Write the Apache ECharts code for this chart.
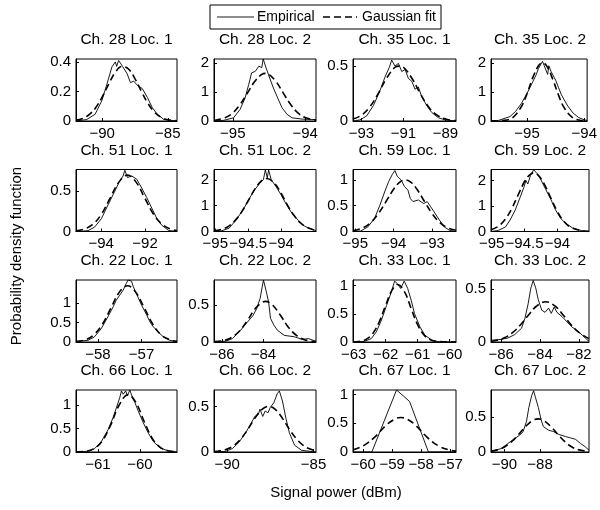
<!DOCTYPE html>
<html><head><meta charset="utf-8">
<script src="https://cdn.jsdelivr.net/npm/echarts@6/dist/echarts.min.js"></script>
<style>html,body{margin:0;padding:0;background:#fff}#c{width:600px;height:510px}</style>
</head><body><div id="c"></div><script>
// ---------- data ----------
const emp28L1 = [[-92,0],[-91.18,0.01],[-90.54,0.046],[-90.03,0.138],[-89.64,0.25],[-89.26,0.367],[-89,0.40],[-88.9,0.37],[-88.75,0.41],[-88.6,0.42],[-88.45,0.37],[-88.3,0.38],[-88.1,0.32],[-87.85,0.26],[-87.6,0.27],[-87.3,0.24],[-86.95,0.22],[-86.56,0.16],[-86.18,0.09],[-85.8,0.046],[-85.3,0.01],[-84.3,0]];
const fit28L1 = [[-92,0.006],[-91.5,0.017],[-91,0.043],[-90.5,0.09],[-90,0.163],[-89.5,0.251],[-89,0.33],[-88.5,0.369],[-88,0.352],[-87.5,0.286],[-87,0.198],[-86.5,0.117],[-86,0.058],[-85.5,0.025],[-85,0.009],[-84.3,0.002]];
const emp28L2 = [[-95.26,0.02],[-95.13,0.02],[-94.99,0.11],[-94.9,0.4],[-94.83,0.8],[-94.78,1.27],[-94.74,1.67],[-94.69,1.72],[-94.64,1.9],[-94.6,1.85],[-94.58,2.15],[-94.54,1.84],[-94.49,1.49],[-94.44,1.15],[-94.38,0.8],[-94.32,0.46],[-94.25,0.23],[-94.18,0.11],[-94.02,0.06],[-93.85,0.05]];
const fit28L2 = [[-95.26,0.02],[-95.1,0.12],[-95.0,0.28],[-94.9,0.57],[-94.8,0.96],[-94.7,1.36],[-94.6,1.62],[-94.55,1.65],[-94.5,1.62],[-94.4,1.36],[-94.3,0.96],[-94.2,0.57],[-94.1,0.28],[-94.0,0.12],[-93.85,0.03]];
const emp35L1 = [[-93.4,0],[-93.07,0.01],[-92.75,0.046],[-92.43,0.14],[-92.11,0.28],[-91.88,0.40],[-91.67,0.49],[-91.56,0.555],[-91.4,0.5],[-91.24,0.525],[-91.08,0.45],[-90.92,0.47],[-90.77,0.39],[-90.6,0.36],[-90.45,0.29],[-90.29,0.31],[-90.13,0.22],[-89.89,0.14],[-89.65,0.077],[-89.34,0.03],[-89.02,0.01],[-88.5,0]];
const fit35L1 = [[-93.4,0.018],[-93,0.053],[-92.6,0.128],[-92.2,0.25],[-91.8,0.39],[-91.4,0.49],[-91.2,0.5],[-91.0,0.49],[-90.6,0.39],[-90.2,0.25],[-89.8,0.128],[-89.4,0.053],[-89.0,0.018],[-88.5,0.003]];
const emp35L2 = [[-95.63,0],[-95.5,0.02],[-95.3,0.15],[-95.2,0.33],[-95.1,0.6],[-95.0,0.95],[-94.95,1.15],[-94.9,1.35],[-94.85,1.55],[-94.8,1.8],[-94.77,1.75],[-94.73,2.05],[-94.7,1.9],[-94.67,1.95],[-94.64,1.6],[-94.62,1.9],[-94.58,1.7],[-94.5,1.4],[-94.45,1.15],[-94.4,0.9],[-94.3,0.55],[-94.2,0.28],[-94.1,0.12],[-94.0,0.04],[-93.95,0.02]];
const fit35L2 = [[-95.63,0],[-95.4,0.02],[-95.25,0.12],[-95.1,0.49],[-95.0,0.94],[-94.9,1.49],[-94.8,1.9],[-94.73,2.0],[-94.65,1.87],[-94.55,1.43],[-94.45,0.89],[-94.35,0.45],[-94.2,0.11],[-94.05,0.017],[-93.95,0.004]];
const emp51L1 = [[-95.15,0],[-94.6,0.01],[-94.3,0.055],[-93.99,0.16],[-93.69,0.33],[-93.38,0.5],[-93.15,0.63],[-93.0,0.69],[-92.92,0.76],[-92.8,0.67],[-92.61,0.69],[-92.38,0.65],[-92.15,0.54],[-91.92,0.42],[-91.69,0.29],[-91.46,0.16],[-91.23,0.076],[-90.92,0.013],[-90.54,0]];
const fit51L1 = [[-95.15,0.008],[-94.8,0.027],[-94.4,0.085],[-94.0,0.21],[-93.6,0.41],[-93.2,0.61],[-92.8,0.7],[-92.4,0.61],[-92.0,0.41],[-91.6,0.21],[-91.2,0.085],[-90.8,0.027],[-90.54,0.01]];
const emp51L2 = [[-95.02,0],[-94.9,0.03],[-94.79,0.13],[-94.69,0.43],[-94.58,0.83],[-94.48,1.29],[-94.4,1.62],[-94.32,1.88],[-94.27,2.0],[-94.24,2.38],[-94.21,2.08],[-94.19,2.38],[-94.15,2.0],[-94.08,1.75],[-94.0,1.42],[-93.93,1.09],[-93.85,0.76],[-93.74,0.43],[-93.64,0.2],[-93.47,0.03]];
const fit51L2 = [[-95.02,0.026],[-94.9,0.086],[-94.8,0.2],[-94.7,0.42],[-94.6,0.76],[-94.5,1.19],[-94.4,1.64],[-94.3,1.96],[-94.22,2.05],[-94.1,1.86],[-94.0,1.48],[-93.9,1.0],[-93.8,0.61],[-93.7,0.32],[-93.6,0.15],[-93.47,0.04]];
const emp59L1 = [[-95.06,0],[-94.86,0.01],[-94.68,0.085],[-94.5,0.25],[-94.36,0.51],[-94.22,0.8],[-94.13,0.97],[-94.04,1.1],[-93.97,1.18],[-93.91,1.07],[-93.81,1.0],[-93.72,0.87],[-93.63,0.8],[-93.57,0.64],[-93.5,0.58],[-93.36,0.61],[-93.22,0.54],[-93.13,0.58],[-93.04,0.48],[-92.95,0.38],[-92.81,0.22],[-92.68,0.085],[-92.54,0.02],[-92.38,0]];
const fit59L1 = [[-95.06,0.018],[-94.8,0.073],[-94.6,0.172],[-94.4,0.345],[-94.2,0.58],[-94.0,0.823],[-93.85,0.953],[-93.7,1.0],[-93.55,0.953],[-93.4,0.823],[-93.2,0.58],[-93.0,0.345],[-92.8,0.172],[-92.6,0.073],[-92.38,0.023]];
const emp59L2 = [[-95.01,0],[-94.9,0.04],[-94.79,0.18],[-94.72,0.45],[-94.64,0.85],[-94.56,1.39],[-94.51,1.73],[-94.48,2.0],[-94.45,1.86],[-94.41,2.2],[-94.36,2.42],[-94.31,2.27],[-94.26,2.07],[-94.18,1.66],[-94.1,1.26],[-94.03,0.85],[-93.95,0.51],[-93.87,0.31],[-93.77,0.14],[-93.64,0.04],[-93.52,0]];
const fit59L2 = [[-95.01,0.069],[-94.9,0.2],[-94.8,0.46],[-94.7,0.87],[-94.6,1.42],[-94.5,1.96],[-94.43,2.2],[-94.36,2.3],[-94.29,2.2],[-94.2,1.86],[-94.1,1.31],[-94.0,0.78],[-93.9,0.39],[-93.8,0.17],[-93.65,0.035],[-93.52,0.006]];
const emp22L1 = [[-58.5,0.02],[-58.23,0.04],[-58.08,0.13],[-57.92,0.35],[-57.77,0.65],[-57.65,0.91],[-57.58,1.08],[-57.5,1.21],[-57.42,1.34],[-57.35,1.51],[-57.31,1.6],[-57.23,1.57],[-57.19,1.43],[-57.12,1.25],[-57.0,0.95],[-56.88,0.69],[-56.81,0.52],[-56.73,0.39],[-56.62,0.26],[-56.5,0.13],[-56.35,0.04],[-56.19,0.02]];
const fit22L1 = [[-58.5,0.012],[-58.3,0.052],[-58.1,0.18],[-57.9,0.45],[-57.7,0.88],[-57.5,1.3],[-57.32,1.45],[-57.15,1.31],[-56.95,0.91],[-56.75,0.47],[-56.55,0.18],[-56.35,0.057],[-56.19,0.017]];
const emp22L2 = [[-86.38,0.01],[-85.83,0.01],[-85.5,0.045],[-85.16,0.14],[-84.83,0.25],[-84.5,0.36],[-84.33,0.45],[-84.16,0.59],[-84.0,0.84],[-83.86,0.68],[-83.75,0.54],[-83.66,0.32],[-83.5,0.23],[-83.33,0.16],[-83.0,0.09],[-82.5,0.07],[-82.16,0.036],[-81.83,0.045],[-81.47,0.01]];
const fit22L2 = [[-86.38,0.003],[-86,0.015],[-85.6,0.051],[-85.2,0.136],[-84.8,0.28],[-84.4,0.45],[-84.1,0.53],[-83.9,0.55],[-83.6,0.51],[-83.2,0.37],[-82.8,0.2],[-82.4,0.087],[-82.0,0.028],[-81.47,0.004]];
const emp33L1 = [[-63.02,0],[-62.67,0.01],[-62.45,0.06],[-62.29,0.18],[-62.13,0.39],[-61.97,0.65],[-61.82,0.89],[-61.72,1.08],[-61.64,1.04],[-61.53,0.95],[-61.42,1.08],[-61.31,0.95],[-61.2,0.74],[-61.1,0.51],[-60.93,0.27],[-60.77,0.12],[-60.55,0.03],[-60.28,0],[-59.8,0]];
const fit33L1 = [[-63.02,0.002],[-62.8,0.013],[-62.6,0.05],[-62.4,0.152],[-62.2,0.356],[-62.0,0.65],[-61.8,0.92],[-61.62,1.02],[-61.4,0.88],[-61.2,0.59],[-61.0,0.307],[-60.8,0.124],[-60.6,0.04],[-60.4,0.01],[-59.8,0]];
const emp33L2 = [[-86.52,0.016],[-86.0,0.025],[-85.65,0.038],[-85.3,0.07],[-84.95,0.13],[-84.78,0.22],[-84.61,0.36],[-84.47,0.51],[-84.35,0.58],[-84.22,0.51],[-84.09,0.4],[-83.91,0.3],[-83.74,0.28],[-83.56,0.32],[-83.42,0.27],[-83.27,0.33],[-83.13,0.28],[-82.87,0.24],[-82.61,0.19],[-82.35,0.14],[-82.09,0.11],[-81.82,0.063],[-81.48,0.006]];
const fit33L2 = [[-86.52,0.007],[-86.2,0.017],[-85.8,0.042],[-85.4,0.09],[-85.0,0.163],[-84.6,0.253],[-84.2,0.335],[-83.7,0.38],[-83.2,0.335],[-82.8,0.253],[-82.4,0.163],[-82.0,0.09],[-81.48,0.032]];
const emp66L1 = [[-61.52,0],[-61.24,0.015],[-61.08,0.07],[-60.92,0.22],[-60.76,0.47],[-60.64,0.73],[-60.56,0.94],[-60.48,1.16],[-60.44,1.3],[-60.4,1.23],[-60.34,1.3],[-60.3,1.2],[-60.24,1.32],[-60.18,1.16],[-60.12,1.05],[-60.04,0.87],[-59.92,0.62],[-59.8,0.4],[-59.68,0.22],[-59.52,0.087],[-59.32,0.02],[-59.12,0]];
const fit66L1 = [[-61.52,0.002],[-61.3,0.013],[-61.1,0.067],[-60.9,0.23],[-60.7,0.565],[-60.5,0.99],[-60.28,1.22],[-60.1,1.06],[-59.9,0.65],[-59.7,0.28],[-59.5,0.089],[-59.3,0.02],[-59.12,0.004]];
const emp66L2 = [[-90.76,0],[-90.1,0.007],[-89.7,0.037],[-89.3,0.11],[-88.9,0.22],[-88.6,0.32],[-88.4,0.39],[-88.2,0.41],[-88.1,0.47],[-87.94,0.39],[-87.8,0.45],[-87.64,0.43],[-87.5,0.49],[-87.3,0.54],[-87.1,0.64],[-86.98,0.67],[-86.8,0.56],[-86.6,0.37],[-86.4,0.21],[-86.1,0.075],[-85.7,0.019],[-84.86,0]];
const fit66L2 = [[-90.76,0.004],[-90.4,0.012],[-90.0,0.032],[-89.6,0.073],[-89.2,0.146],[-88.8,0.25],[-88.4,0.369],[-88.0,0.464],[-87.6,0.5],[-87.2,0.464],[-86.8,0.369],[-86.4,0.25],[-86.0,0.146],[-85.6,0.073],[-85.2,0.032],[-84.86,0.014]];
const emp67L1 = [[-60.35,0],[-59.7,0],[-58.85,1.08],[-58.6,0.97],[-58.4,0.88],[-57.75,0],[-56.8,0]];
const fit67L1 = [[-60.35,0.037],[-60.0,0.106],[-59.6,0.26],[-59.2,0.47],[-58.9,0.575],[-58.7,0.6],[-58.5,0.575],[-58.2,0.47],[-57.8,0.26],[-57.4,0.106],[-57.0,0.031],[-56.8,0.015]];
const emp67L2 = [[-90.76,0.01],[-90.19,0.048],[-89.81,0.12],[-89.43,0.19],[-89.14,0.24],[-88.95,0.29],[-88.76,0.435],[-88.63,0.63],[-88.47,0.8],[-88.36,0.87],[-88.25,0.77],[-88.09,0.63],[-87.94,0.46],[-87.81,0.36],[-87.52,0.31],[-87.24,0.29],[-86.95,0.25],[-86.57,0.22],[-86.28,0.2],[-86.0,0.18],[-85.71,0.12],[-85.43,0.07],[-85.24,0.024]];
const fit67L2 = [[-90.76,0.012],[-90.4,0.03],[-90.0,0.071],[-89.6,0.146],[-89.2,0.251],[-88.8,0.365],[-88.4,0.448],[-88.1,0.47],[-87.8,0.448],[-87.4,0.365],[-87.0,0.251],[-86.6,0.146],[-86.2,0.071],[-85.8,0.03],[-85.24,0.007]];

const titles = ['Ch. 28 Loc. 1','Ch. 28 Loc. 2','Ch. 35 Loc. 1','Ch. 35 Loc. 2',
                'Ch. 51 Loc. 1','Ch. 51 Loc. 2','Ch. 59 Loc. 1','Ch. 59 Loc. 2',
                'Ch. 22 Loc. 1','Ch. 22 Loc. 2','Ch. 33 Loc. 1','Ch. 33 Loc. 2',
                'Ch. 66 Loc. 1','Ch. 66 Loc. 2','Ch. 67 Loc. 1','Ch. 67 Loc. 2'];
const empirical = [emp28L1,emp28L2,emp35L1,emp35L2,emp51L1,emp51L2,emp59L1,emp59L2,emp22L1,emp22L2,emp33L1,emp33L2,emp66L1,emp66L2,emp67L1,emp67L2];
const gaussFit  = [fit28L1,fit28L2,fit35L1,fit35L2,fit51L1,fit51L2,fit59L1,fit59L2,fit22L1,fit22L2,fit33L1,fit33L2,fit66L1,fit66L2,fit67L1,fit67L2];
const xRanges = [[-92,-84.3],[-95.26,-93.85],[-93.4,-88.5],[-95.63,-93.95],
                 [-95.15,-90.54],[-95.02,-93.47],[-95.06,-92.38],[-95.01,-93.52],
                 [-58.5,-56.19],[-86.38,-81.47],[-63.02,-59.8],[-86.52,-81.48],
                 [-61.52,-59.12],[-90.76,-84.86],[-60.35,-56.8],[-90.76,-85.24]];
const yMax = [0.42,2.15,0.565,2.13, 0.77,2.4,1.2,2.43, 1.6,0.84,1.1,0.585, 1.32,0.68,1.08,0.88];
const xTicks = [[-90,-85],[-95,-94],[-93,-91,-89],[-95,-94],
                [-94,-92],[-95,-94.5,-94],[-95,-94,-93],[-95,-94.5,-94],
                [-58,-57],[-86,-84],[-63,-62,-61,-60],[-86,-84,-82],
                [-61,-60],[-90,-85],[-60,-59,-58,-57],[-90,-88]];
const yTicks = [[0,0.2,0.4],[0,1,2],[0,0.5],[0,1,2],
                [0,0.5],[0,1,2],[0,0.5,1],[0,1,2],
                [0,0.5,1],[0,0.5],[0,0.5,1],[0,0.5],
                [0,0.5,1],[0,0.5],[0,0.5,1],[0,0.5]];
const seriesNames = ['Empirical','Gaussian fit'];
const xTitle = 'Signal power (dBm)';
const yTitle = 'Probability density function';

// ---------- layout / style ----------
const FONT = '"Liberation Sans", Arial, Helvetica, sans-serif';
const colLeft = [76, 214, 353, 491];
const colW = [101, 102, 103, 98];
const rowTop = [59, 169.5, 280, 390];
const rowH = 62;
const DASH = [7, 4];
const fmt = v => String(v).replace('-', '\u2212');
const txt = (text, size, extra) => Object.assign({text: text, font: size + 'px ' + FONT, fill: '#000',
  align: 'center', verticalAlign: 'middle', textAlign: 'center', textVerticalAlign: 'middle'}, extra || {});
const labelStyle = vals => ({customValues: vals, formatter: fmt, margin: 5, fontSize: 15, color: '#000',
  fontFamily: FONT, hideOverlap: false, showMinLabel: true, showMaxLabel: true});

const grids = [], xAxes = [], yAxes = [], series = [], graphics = [];
titles.forEach((t, i) => {
  const r = Math.floor(i / 4), c = i % 4;
  grids.push({left: colLeft[c], top: rowTop[r], width: colW[c], height: rowH,
    show: true, borderColor: '#000', borderWidth: 1, backgroundColor: 'transparent'});
  xAxes.push({type: 'value', gridIndex: i, min: xRanges[i][0], max: xRanges[i][1],
    axisLine: {show: true, onZero: false, lineStyle: {color: '#000', width: 1}},
    axisTick: {show: true, inside: true, length: 3, customValues: xTicks[i], lineStyle: {color: '#000'}},
    axisLabel: labelStyle(xTicks[i]), splitLine: {show: false}});
  yAxes.push({type: 'value', gridIndex: i, min: 0, max: yMax[i],
    axisLine: {show: true, onZero: false, lineStyle: {color: '#000', width: 1}},
    axisTick: {show: true, inside: true, length: 3, customValues: yTicks[i], lineStyle: {color: '#000'}},
    axisLabel: labelStyle(yTicks[i]), splitLine: {show: false}});
  series.push({type: 'line', name: seriesNames[0], xAxisIndex: i, yAxisIndex: i, data: empirical[i],
    symbol: 'none', showSymbol: false, lineStyle: {color: '#000', width: 0.9}, itemStyle: {color: '#000'}, z: 3});
  series.push({type: 'line', name: seriesNames[1], xAxisIndex: i, yAxisIndex: i, data: gaussFit[i],
    smooth: 0.4, symbol: 'none', showSymbol: false, lineStyle: {color: '#000', width: 1.6, type: DASH}, itemStyle: {color: '#000'}, z: 4});
  graphics.push({type: 'text', x: colLeft[c] + colW[c] / 2, y: rowTop[r] - 19, style: txt(t, 15.5)});
});
graphics.push({type: 'text', x: 336, y: 493, style: txt(xTitle, 15)});
graphics.push({type: 'text', x: 17, y: 256, rotation: Math.PI / 2, style: txt(yTitle, 15)});
// legend box (drawn by hand so the samples are plain line strokes)
const LG = {x: 210, y: 5, w: 231, h: 24};
const ly = LG.y + LG.h / 2;
graphics.push({type: 'rect', shape: {x: LG.x, y: LG.y, width: LG.w, height: LG.h}, style: {fill: '#fff', stroke: '#000', lineWidth: 1}, z: 10});
graphics.push({type: 'line', shape: {x1: 217, y1: ly, x2: 254, y2: ly}, style: {stroke: '#000', lineWidth: 0.9}, z: 11});
graphics.push({type: 'text', x: 257, y: ly, style: txt(seriesNames[0], 14, {align: 'left', textAlign: 'left'}), z: 11});
graphics.push({type: 'line', shape: {x1: 323, y1: ly, x2: 357, y2: ly}, style: {stroke: '#000', lineWidth: 1.6, lineDash: DASH}, z: 11});
graphics.push({type: 'text', x: 362, y: ly, style: txt(seriesNames[1], 14, {align: 'left', textAlign: 'left'}), z: 11});

const chart = echarts.init(document.getElementById('c'), null, {renderer: 'canvas'});
chart.setOption({
  animation: false,
  backgroundColor: '#fff',
  grid: grids, xAxis: xAxes, yAxis: yAxes, series: series, graphic: graphics
});
</script></body></html>
